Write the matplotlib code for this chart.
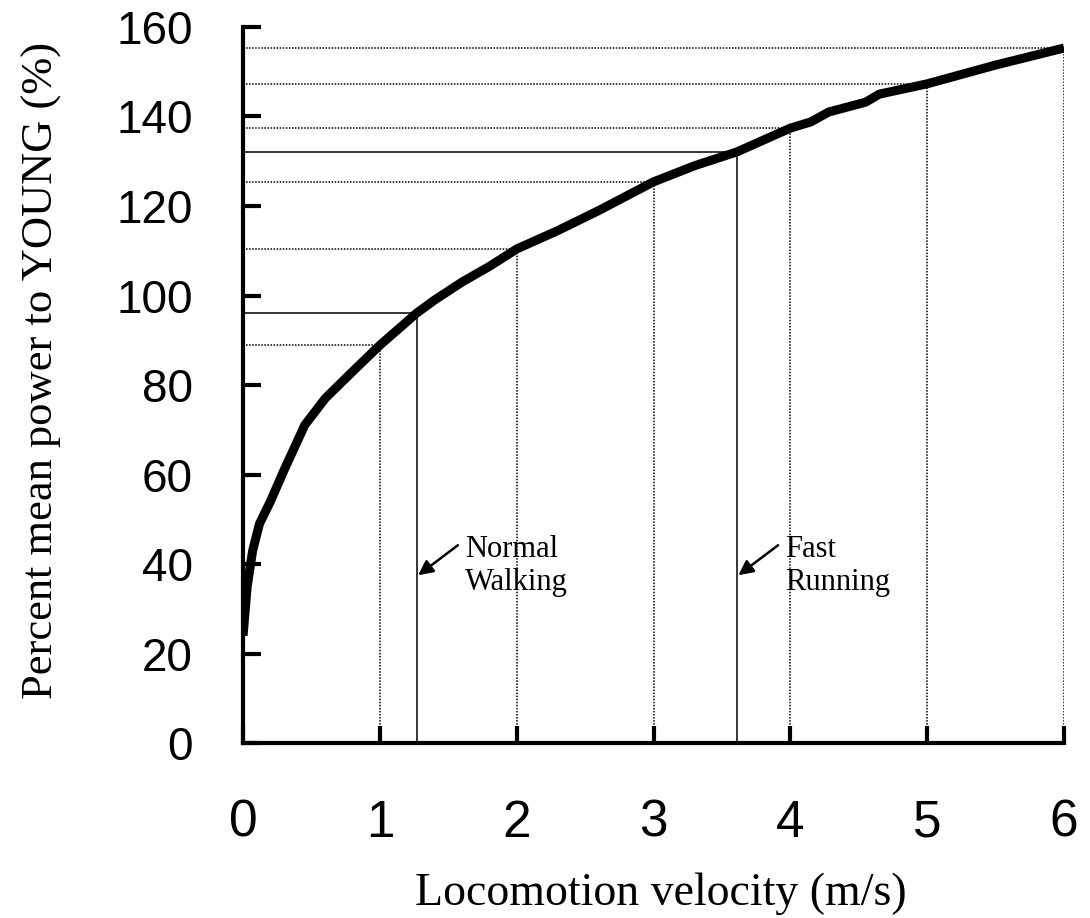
import numpy as np
import matplotlib
matplotlib.use("Agg")
import matplotlib.pyplot as plt

# curve
velocity = [0.0, 0.03, 0.07, 0.12, 0.2, 0.3, 0.45, 0.6, 0.8, 1.0, 1.27, 1.4, 1.6, 1.8,
            2.0, 2.3, 2.6, 3.0, 3.3, 3.61, 4.0, 4.15, 4.28, 4.55, 4.65, 5.0, 5.5, 6.0]
power = [24, 35, 43, 49, 54, 61, 71, 77, 83, 88.9, 96.1, 99, 103, 106.5,
         110.4, 114.5, 119, 125.4, 129, 132.1, 137.4, 138.8, 141, 143.2, 145, 147.3, 151.5, 155.3]

# reference drop lines
dotted_x = [1, 2, 3, 4, 5, 6]
solid_x = [1.27, 3.61]

notes = ["Normal\nWalking", "Fast\nRunning"]

fig = plt.figure(figsize=(10.9, 9.18), dpi=100)
ax = fig.add_axes([0.223, 0.1906, 0.7532, 0.780])

for xs, ls in ((dotted_x, (0, (1, 1))), (solid_x, "-")):
    for xv in xs:
        yv = np.interp(xv, velocity, power)
        ax.plot([0, xv], [yv, yv], color="black", lw=1.1, ls=ls)
        ax.plot([xv, xv], [0, yv], color="black", lw=1.1, ls=ls)

ax.plot(velocity, power, color="black", lw=6.5, solid_capstyle="butt", zorder=5)

for xv, txt in zip(solid_x, notes):
    ax.annotate("", xy=(xv + 0.01, 37.5), xytext=(xv + 0.3, 44.2),
                arrowprops=dict(arrowstyle="-|>", color="black", lw=1.8,
                                mutation_scale=22, shrinkA=0, shrinkB=0))
    ax.text(xv + 0.35, 46.5, txt, fontsize=22, family="Liberation Serif",
            va="top", ha="left", linespacing=1.2)

ax.set_xlim(0, 6)
ax.set_ylim(0, 160)
ax.set_xticks(range(0, 7))
ax.set_yticks(range(0, 161, 20))
ax.spines["top"].set_visible(False)
ax.spines["right"].set_visible(False)
ax.spines["left"].set_linewidth(3)
ax.spines["bottom"].set_linewidth(3)
ax.tick_params(axis="y", direction="in", length=13, width=3, pad=36)
ax.tick_params(axis="x", direction="in", length=12, width=3, pad=40)
for lab in ax.get_yticklabels():
    lab.set_fontsize(33)
    lab.set_family("Liberation Sans")
for lab in ax.get_xticklabels():
    lab.set_fontsize(37)
    lab.set_family("Liberation Sans")

ax.set_xlabel("Locomotion velocity (m/s)", fontsize=33, family="Liberation Serif", labelpad=18)
ax.xaxis.label.set_x(0.509)
ax.set_ylabel("Percent mean power to YOUNG (%)", fontsize=32, family="Liberation Serif", labelpad=39)
ax.yaxis.label.set_y(0.52)

fig.savefig("out.png", dpi=100)
